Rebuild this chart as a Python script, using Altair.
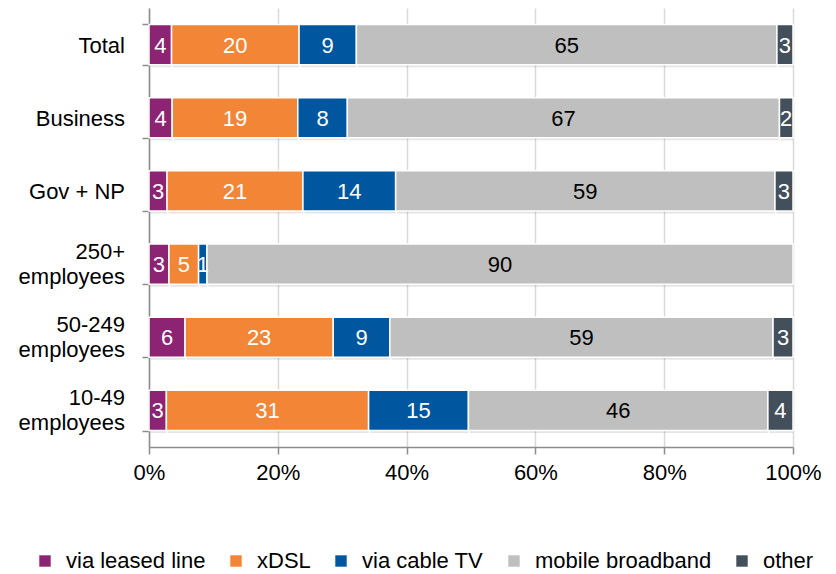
import altair as alt
import pandas as pd

categories = ["Total", "Business", "Gov + NP", "250+ employees", "50-249 employees", "10-49 employees"]
series = ["via leased line", "xDSL", "via cable TV", "mobile broadband", "other"]
colors = ["#8C2473", "#F28536", "#0057A0", "#BFBFBF", "#43505B"]

# shares (%), per series, in category order
leased = [3.5, 3.6, 2.8, 3.1, 5.6, 2.7]
xdsl = [19.8, 19.5, 21.1, 4.6, 23.0, 31.4]
cable = [8.9, 7.7, 14.4, 1.3, 8.8, 15.5]
mobile = [65.3, 67.1, 58.9, 91.0, 59.5, 46.5]
other = [2.5, 2.1, 2.8, 0.0, 3.1, 3.9]

# printed labels
lab_leased = ["4", "4", "3", "3", "6", "3"]
lab_xdsl = ["20", "19", "21", "5", "23", "31"]
lab_cable = ["9", "8", "14", "1", "9", "15"]
lab_mobile = ["65", "67", "59", "90", "59", "46"]
lab_other = ["3", "2", "3", "", "3", "4"]

rows = []
for si, (s, vals, labs) in enumerate(zip(series,
        [leased, xdsl, cable, mobile, other],
        [lab_leased, lab_xdsl, lab_cable, lab_mobile, lab_other])):
    for c, v, l in zip(categories, vals, labs):
        rows.append({"category": c, "series": s, "order": si, "share": v, "label": l,
                     "tc": "black" if s == "mobile broadband" else "white"})
df = pd.DataFrame(rows)

# category labels split into lines
cat_rows = []
for c in categories:
    if c.endswith(" employees"):
        cat_rows.append({"category": c, "line1": c[: -len(" employees")], "line2": "employees"})
    else:
        cat_rows.append({"category": c, "line1": c, "line2": ""})
cat_df = pd.DataFrame(cat_rows)

FONT = "Liberation Sans, Arial, sans-serif"
FS = 22

base = alt.Chart(df).transform_filter("datum.share > 0").transform_stack(
    stack="share", groupby=["category"], as_=["x0", "x1"],
    sort=[alt.SortField("order", order="ascending")]
).transform_calculate(mid="(datum.x0 + datum.x1) / 2")

yaxis = alt.Axis(labels=False,
                 tickBand="extent", tickSize=7, tickColor="#8C8C8C", tickWidth=1.5,
                 domainColor="#8C8C8C", domainWidth=1.5, grid=False)
yscale = alt.Scale(paddingInner=0.45, paddingOuter=0.225)
yenc = alt.Y("category:N", sort=categories, title=None, scale=yscale, axis=yaxis)

xscale = alt.Scale(domain=[0, 100], nice=False)
xaxis = alt.Axis(values=[0, 20, 40, 60, 80, 100], labelExpr="datum.value + '%'",
                 title=None, labelFont=FONT, labelFontSize=FS, labelColor="black",
                 labelFlush=False,
                 labelPadding=8, tickSize=7, tickColor="#8C8C8C", tickWidth=1.5,
                 domainColor="#8C8C8C", domainWidth=1.5,
                 grid=True, gridColor="#D9D9D9", gridWidth=1.5)

shadow = base.mark_bar(color="black", opacity=0.10, xOffset=1.5, yOffset=2.5).encode(
    x=alt.X("x0:Q", scale=xscale, axis=xaxis),
    x2="x1:Q",
    y=yenc,
)

bars = base.mark_bar(stroke="white", strokeWidth=1.5).encode(
    x=alt.X("x0:Q", scale=xscale, axis=xaxis),
    x2="x1:Q",
    y=yenc,
    color=alt.Color("series:N", sort=series,
                    scale=alt.Scale(domain=series, range=colors),
                    legend=alt.Legend(title=None, orient="none", direction="horizontal",
                                      legendX=-115, legendY=542, symbolType="square",
                                      symbolSize=130, symbolStrokeWidth=0,
                                      labelFont=FONT, labelFontSize=FS, labelColor="black",
                                      labelLimit=400,
                                      columnPadding=19, labelOffset=10)),
)

texts = base.transform_filter("datum.label != ''").mark_text(
    font=FONT, fontSize=FS, align="center", baseline="middle", dy=1
).encode(
    x=alt.X("mid:Q"),
    y=alt.Y("category:N", sort=categories),
    text="label:N",
    color=alt.Color("tc:N", scale=None),
)

cat_base = alt.Chart(cat_df)
cat_single = cat_base.transform_filter("datum.line2 == ''").mark_text(
    font=FONT, fontSize=FS, align="right", baseline="middle", dy=1, color="black"
).encode(x=alt.value(-24), y=alt.Y("category:N", sort=categories), text="line1:N")
cat_top = cat_base.transform_filter("datum.line2 != ''").mark_text(
    font=FONT, fontSize=FS, align="right", baseline="middle", dy=-12, color="black"
).encode(x=alt.value(-24), y=alt.Y("category:N", sort=categories), text="line1:N")
cat_bot = cat_base.transform_filter("datum.line2 != ''").mark_text(
    font=FONT, fontSize=FS, align="right", baseline="middle", dy=13, color="black"
).encode(x=alt.value(-24), y=alt.Y("category:N", sort=categories), text="line2:N")

chart = alt.layer(shadow, bars, texts, cat_single, cat_top, cat_bot).properties(
    width=644, height=439,
    autosize=alt.AutoSizeParams(type="none"),
    padding={"left": 141, "top": 0, "right": 28, "bottom": 125},
).configure_view(stroke=None)

chart.save("out.html", embed_options={"renderer": "svg", "actions": False})
